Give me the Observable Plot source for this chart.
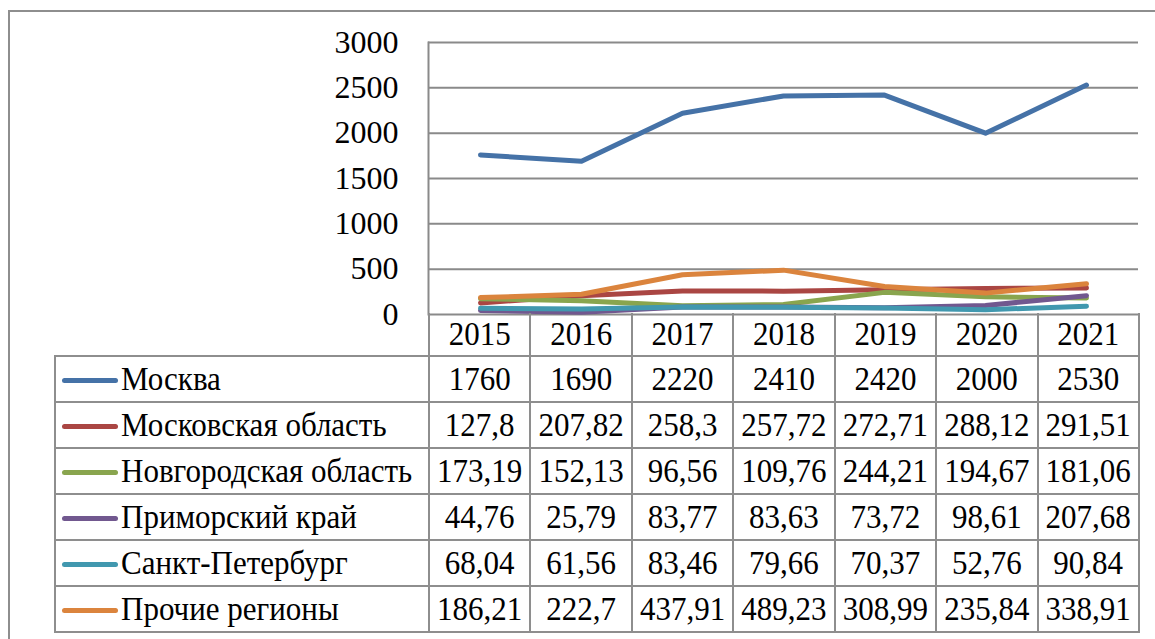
<!DOCTYPE html>
<html>
<head>
<meta charset="utf-8">
<script src="https://cdn.jsdelivr.net/npm/d3@7"></script>
<script src="https://cdn.jsdelivr.net/npm/@observablehq/plot@0.6"></script>
<style>
  html, body { margin: 0; padding: 0; background: #fff; }
  #wrap { position: relative; width: 1155px; height: 639px; overflow: hidden; font-family: "Liberation Serif", "Times New Roman", "DejaVu Serif", serif; color: #000; }
  #outer { position: absolute; left: 8px; top: 10px; width: 1200px; height: 700px; border: 2px solid #8e8e8e; box-sizing: border-box; }
  #chart { position: absolute; left: 0; top: 0; }
  #tbl { position: absolute; left: 54px; top: 313px; border-collapse: collapse; table-layout: fixed; width: 1085px; font-size: 31px; }
  #tbl td { border: 2px solid #8e8e8e; padding: 0; text-align: center; vertical-align: middle; white-space: nowrap; overflow: visible; }
  #tbl tr.hdr td { height: 42px; border-top: none; }
  #tbl tr.hdr td.blank { border-left: none; }
  #tbl tr.row td { height: 44px; }
  #tbl td.leg { text-align: left; padding-left: 6px; }
  .s { display: inline-block; transform: scaleY(1.09); }
  .sw { display: inline-block; width: 56px; height: 5px; border-radius: 3px; vertical-align: middle; margin-right: 3px; position: relative; top: -1px; }
</style>
</head>
<body>
<div id="wrap">
  <div id="outer"></div>
  <div id="chart"></div>
  <table id="tbl"></table>
</div>
<script>
const years = ["2015", "2016", "2017", "2018", "2019", "2020", "2021"];
const regions = ["Москва", "Московская область", "Новгородская область", "Приморский край", "Санкт-Петербург", "Прочие регионы"];
const colors = ["#4572A7", "#AA4643", "#89A54E", "#71588F", "#4198AF", "#DB843D"];
const moscow = [1760, 1690, 2220, 2410, 2420, 2000, 2530];
const moscowOblast = [127.8, 207.82, 258.3, 257.72, 272.71, 288.12, 291.51];
const novgorod = [173.19, 152.13, 96.56, 109.76, 244.21, 194.67, 181.06];
const primorsky = [44.76, 25.79, 83.77, 83.63, 73.72, 98.61, 207.68];
const spb = [68.04, 61.56, 83.46, 79.66, 70.37, 52.76, 90.84];
const other = [186.21, 222.7, 437.91, 489.23, 308.99, 235.84, 338.91];
const yTicks = [0, 500, 1000, 1500, 2000, 2500, 3000];

const series = [moscow, moscowOblast, novgorod, primorsky, spb, other];
const data = [];
series.forEach((vals, i) => vals.forEach((v, j) => data.push({region: regions[i], year: years[j], value: v})));

const chart = Plot.plot({
  width: 1155,
  height: 320,
  marginLeft: 428,
  marginRight: 17,
  marginTop: 42,
  marginBottom: 6,
  style: {fontFamily: "'Liberation Serif', 'Times New Roman', 'DejaVu Serif', serif", fontSize: "32px", color: "#000", background: "transparent", overflow: "visible"},
  x: {type: "point", domain: years, padding: 0.5, axis: null},
  y: {domain: [0, 3000], axis: null},
  color: {domain: regions, range: colors},
  marks: [
    Plot.ruleY(yTicks, {stroke: "#8a8a8a", strokeWidth: 2, strokeOpacity: 1}),
    Plot.axisY({ticks: yTicks, tickSize: 0, tickPadding: 30, fontSize: 32, fill: "#000", label: null, tickFormat: d => String(d)}),
    Plot.frame({anchor: "left", stroke: "#8a8a8a", strokeWidth: 2, strokeOpacity: 1}),
    Plot.line(data, {x: "year", y: "value", z: "region", stroke: "region", strokeWidth: 5, strokeLinecap: "round", strokeLinejoin: "round"})
  ]
});
document.getElementById("chart").appendChild(chart);

const color = chart.scale("color");
const fmt = v => String(v).replace(".", ",");
const tbl = document.getElementById("tbl");
let html = '<colgroup><col style="width:374px">' + years.map(() => '<col style="width:101.43px">').join("") + '</colgroup>';
html += '<tr class="hdr"><td class="blank"></td>' + years.map(y => `<td><span class="s">${y}</span></td>`).join("") + '</tr>';
regions.forEach((r, i) => {
  html += `<tr class="row"><td class="leg"><span class="sw" style="background:${color.apply(r)}"></span><span class="s">${r}</span></td>` +
    series[i].map(v => `<td><span class="s">${fmt(v)}</span></td>`).join("") + '</tr>';
});
tbl.innerHTML = html;
</script>
</body>
</html>
